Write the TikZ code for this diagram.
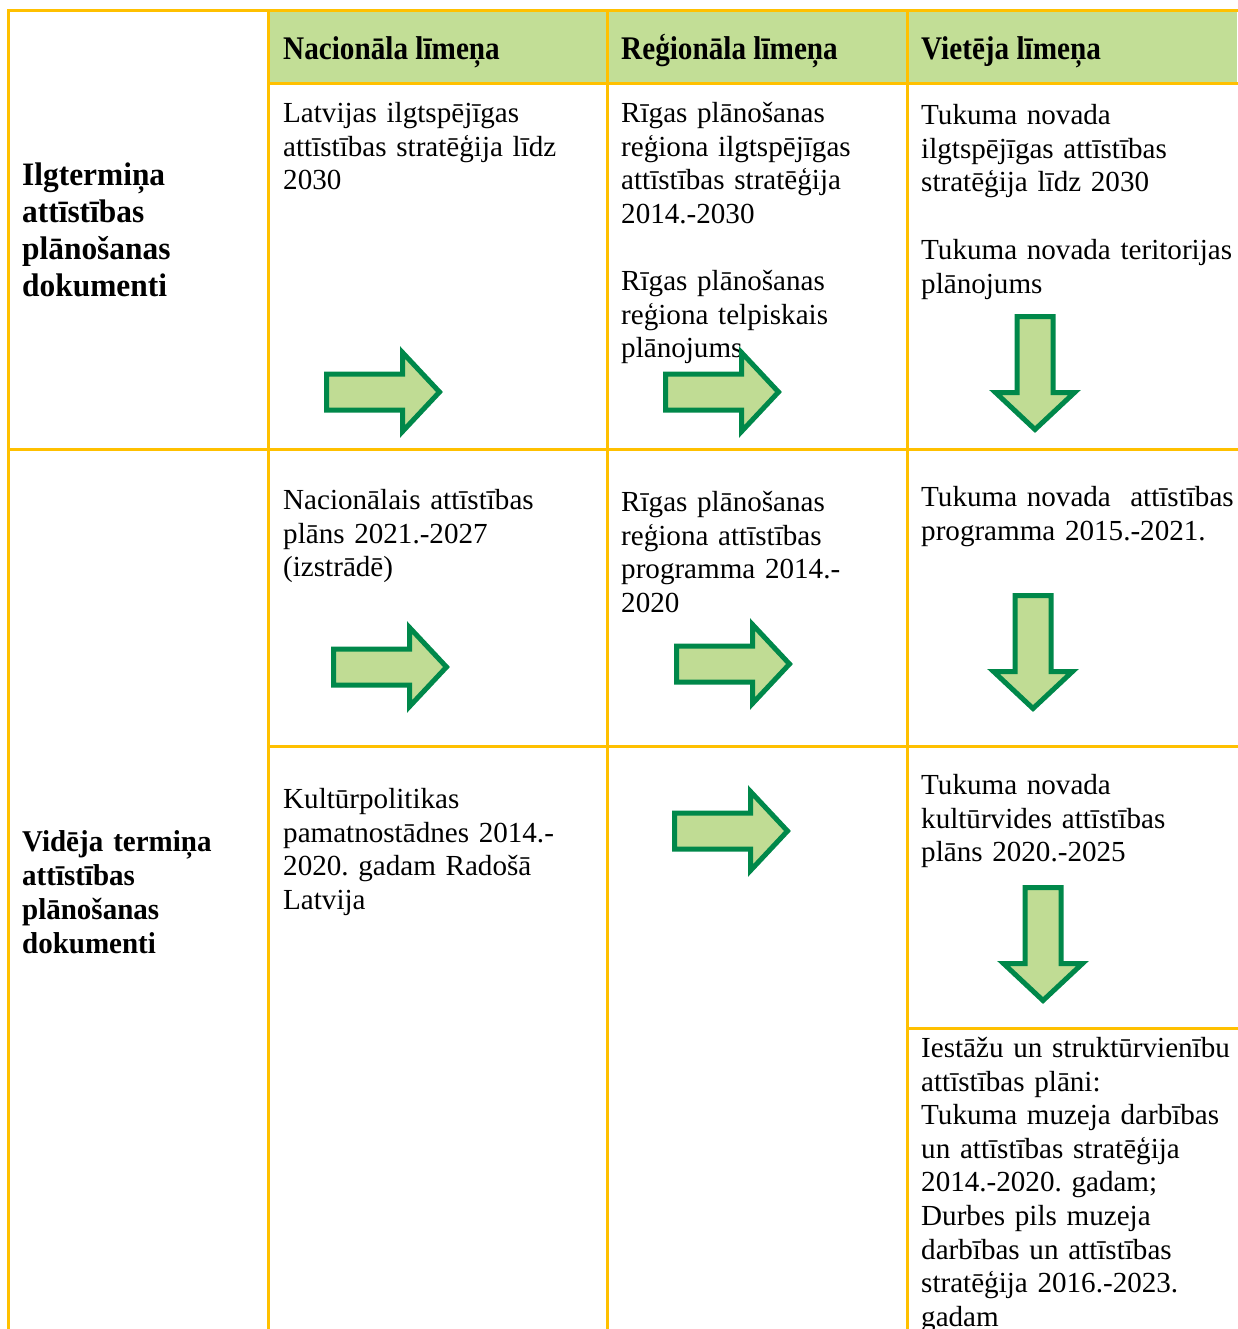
\documentclass[tikz,border=0pt]{standalone}
\usepackage{fontspec}
\setmainfont{Liberation Serif}
\newfontfamily\condA[FakeStretch=0.885]{Liberation Serif}
\newfontfamily\condB[FakeStretch=0.96]{Liberation Serif}
\frenchspacing
\definecolor{gridc}{HTML}{FFC000}
\definecolor{headc}{HTML}{C2DE96}
\definecolor{arrf}{HTML}{C0DC94}
\definecolor{arrc}{HTML}{00884A}
\begin{document}
\begin{tikzpicture}[x=1pt,y=-1pt,
  grid/.style={draw=gridc,line width=3pt,line cap=rect},
  body/.style={anchor=base west,inner sep=0pt,text width=345pt,align=left,font=\fontsize{29.1}{33.6}\selectfont},
  head/.style={anchor=base west,inner sep=0pt,font=\condA\fontsize{33}{36}\selectfont\bfseries},
  sidebig/.style={anchor=base west,inner sep=0pt,text width=240pt,align=left,font=\condB\fontsize{32.7}{37}\selectfont\bfseries},
  sidesmall/.style={anchor=base west,inner sep=0pt,text width=240pt,align=left,font=\condB\fontsize{30.2}{34}\selectfont\bfseries},
  blockarrow/.style={draw=arrc,fill=arrf,line width=5pt,miter limit=10},
  rarr/.pic={\path[blockarrow] (-116.5,-18) -- (-40.5,-18) -- (-40.5,-39.5) -- (-3.5,0) -- (-40.5,39.5) -- (-40.5,18) -- (-116.5,18) -- cycle;},
  dar/.pic={\path[blockarrow] (-18,-116.5) -- (-18,-40.5) -- (-39.5,-40.5) -- (0,-3.5) -- (39.5,-40.5) -- (18,-40.5) -- (18,-116.5) -- cycle;}]
\useasboundingbox (0,0) rectangle (1237,1329);
\fill[white] (0,0) rectangle (1237,1329);
% header fill
\fill[headc] (268,11) rectangle (1237,84);
% grid
\draw[grid] (8,11) -- (1240,11);
\draw[grid] (268,84) -- (1240,84);
\draw[grid] (8,449) -- (1240,449);
\draw[grid] (268,746) -- (1240,746);
\draw[grid] (907,1028) -- (1240,1028);
\draw[grid] (8,11) -- (8,1332);
\draw[grid] (268,11) -- (268,1332);
\draw[grid] (607,11) -- (607,1332);
\draw[grid] (907,11) -- (907,1332);
% headers
\node[head] (h1) at (283,59.5) {Nacionāla līmeņa};
\node[head] (h2) at (621,59.5) {Reģionāla līmeņa};
\node[head] (h3) at (921,59.5) {Vietēja līmeņa};
% side labels
\node[sidebig] (s1) at (22,185.5) {Ilgtermiņa\\attīstības\\plānošanas\\dokumenti};
\node[sidesmall] (s2) at (22,851.5) {Vidēja termiņa\\attīstības\\plānošanas\\dokumenti};
% row 1
\node[body] (a1) at (283,122.5) {Latvijas ilgtspējīgas\\attīstības stratēģija līdz\\2030};
\node[body] (b1) at (621,122.5) {Rīgas plānošanas\\reģiona ilgtspējīgas\\attīstības stratēģija\\2014.-2030};
\node[body] (b1b) at (621,290.5) {Rīgas plānošanas\\reģiona telpiskais\\plānojums};
\node[body] (c1) at (921,124.5) {Tukuma novada\\ilgtspējīgas attīstības\\stratēģija līdz 2030};
\node[body] (c1b) at (921,259.5) {Tukuma novada teritorijas\\plānojums};
% row 2
\node[body] (a2) at (283,509.5) {Nacionālais attīstības\\plāns 2021.-2027\\(izstrādē)};
\node[body] (b2) at (621,511.5) {Rīgas plānošanas\\reģiona attīstības\\programma 2014.-\\2020};
\node[body] (c2) at (921,506.5) {Tukuma novada\ \ attīstības\\programma 2015.-2021.};
% row 3
\node[body] (a3) at (283,808.5) {Kultūrpolitikas\\pamatnostādnes 2014.-\\2020. gadam Radošā\\Latvija};
\node[body] (c3) at (921,794.5) {Tukuma novada\\kultūrvides attīstības\\plāns 2020.-2025};
% row 4
\node[body] (c4) at (921,1057.5) {Iestāžu un struktūrvienību\\attīstības plāni:\\Tukuma muzeja darbības\\un attīstības stratēģija\\2014.-2020. gadam;\\Durbes pils muzeja\\darbības un attīstības\\stratēģija 2016.-2023.\\gadam};
% arrows
\pic at (443,392) {rarr};
\pic at (782,392) {rarr};
\pic at (1035,433) {dar};
\pic at (450,667) {rarr};
\pic at (793,664) {rarr};
\pic at (1033,712) {dar};
\pic at (791,831) {rarr};
\pic at (1043,1004) {dar};
\end{tikzpicture}
\end{document}
